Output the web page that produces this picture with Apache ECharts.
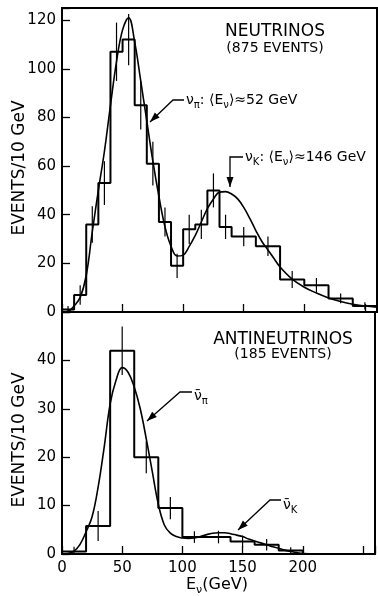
<!DOCTYPE html>
<html><head><meta charset="utf-8">
<script src="https://cdn.jsdelivr.net/npm/echarts@6/dist/echarts.min.js"></script>
<style>html,body{margin:0;padding:0;background:#fff}#c{width:378px;height:596px}</style>
</head><body><div id="c"></div>
<script>
// ---- Neutrinos (top panel) ----
const nuEdges  = [0,10,20,30,40,50,60,70,80,90,100,110,120,130,140,160,180,200,220,240,260];
const nuCounts = [1,7,36,53,107,112,85,61,37,19,34,36,50,35,31,27,13.4,11,5.6,2.5];
const nuErrors = [1.5,4,7.5,9,12,10.5,10,9,6,5,6,6,7,5,4,4,3.5,3,2,1.5];
const nuFitX = [0,5,10,15,20,25,30,35,40,45,50,55,60,65,70,75,80,85,90,95,100,105,110,115,120,125,130,135,140,145,150,155,160,165,170,175,180,190,200,210,220,230,240,250,260];
const nuFitY = [0,0.3,2.5,6,15,33,50,66,85,103,116,121,111,95,78.5,62,47.5,35,27,23,23.4,27,31.5,37,42.5,46.5,49.3,49.5,48.5,46.5,43,38.5,33.5,29,25.5,22,18.5,13.5,10.2,7.8,5.8,4.3,3.2,2.5,2];
// ---- Antineutrinos (bottom panel) ----
const abEdges  = [0,20,40,60,80,100,120,140,160,180,200,260];
const abCounts = [0.5,5.8,42,20,9.5,3.5,3.5,2.6,1.9,0.7,0];
const abErrors = [1,3.1,5,3.3,2.3,1.2,1.3,1.2,1.2,0.7,0];
const abFitX = [0,5,10,15,20,25,30,35,40,45,50,55,60,65,70,75,80,85,90,95,100,105,110,115,120,125,130,135,140,145,150,155,160,165,170,175,180,185,190,195,200,210,260];
const abFitY = [0,0.1,0.6,2,4.6,7.7,13.8,22,31,36,38.5,37.5,34.5,30,23.8,17,10.3,6,4.3,3.6,3.3,3.2,3.3,3.6,4,4.3,4.4,4.4,4.2,3.9,3.6,3.1,2.7,2.3,1.9,1.5,1.2,0.8,0.5,0.3,0.1,0,0];
// ---- ticks ----
const xTickStep = 50, xLabelMax = 200;
const yTopStep = 20, yTopLabelMax = 120;
const yBotStep = 10, yBotLabelMax = 40;

const FONT = 'DejaVu Sans';
function stepData(edges, counts){ const d = counts.map((c,i)=>[edges[i], c]); d.push([edges[edges.length-1], counts[counts.length-1]]); return d; }
function errData(edges, counts, errs){ return counts.map((c,i)=>[(edges[i]+edges[i+1])/2, Math.max(0,c-errs[i]), c+errs[i]]).filter(d=>d[2]>d[1]); }
function fitData(xs, ys){ return xs.map((x,i)=>[x, ys[i]]); }
const errRender = (params, api) => {
  const p1 = api.coord([api.value(0), api.value(1)]);
  const p2 = api.coord([api.value(0), api.value(2)]);
  return {type:'line', shape:{x1:p1[0],y1:p1[1],x2:p2[0],y2:p2[1]}, style:{stroke:'#000', lineWidth:1.2}};
};
function arrow(pts){
  const n = pts.length, t = pts[n-1], f = pts[n-2];
  const dx=t[0]-f[0], dy=t[1]-f[1], L=Math.hypot(dx,dy), ux=dx/L, uy=dy/L, len=10, w=3.5;
  const bx=t[0]-ux*len, by=t[1]-uy*len;
  return [
    {type:'polyline', shape:{points:pts}, style:{stroke:'#000', lineWidth:1.3, fill:null}},
    {type:'polygon', shape:{points:[t,[bx-uy*w,by+ux*w],[bx+uy*w,by-ux*w]]}, style:{fill:'#000'}}
  ];
}
const richSub = {
  a:{fontSize:14, lineHeight:20, fontFamily:FONT, color:'#000'},
  s:{fontSize:10, lineHeight:10, verticalAlign:'bottom', fontFamily:FONT, color:'#000'}
};
function txt(x,y,text,size,extra){ return Object.assign({type:'text', x:x, y:y, style:{text:text, font:size+'px "'+FONT+'"', fill:'#000', align:'center', verticalAlign:'middle'}}, extra||{}); }
function rtxt(x,y,text,rich){ return {type:'text', x:x, y:y, style:{text:text, rich:rich||richSub, fill:'#000', align:'left', verticalAlign:'middle', font:'14px "'+FONT+'"'}}; }

const axisCommon = {
  type:'value', min:0,
  axisLine:{show:true, lineStyle:{color:'#000', width:2}},
  axisTick:{show:true, inside:true, length:8, lineStyle:{color:'#000', width:1.3}},
  splitLine:{show:false}
};
const option = {
  backgroundColor:'#fff',
  animation:false,
  grid:[
    {left:62, top:8, width:315, height:304, show:true, borderColor:'#000', borderWidth:2},
    {left:62, top:312, width:315, height:242, show:true, borderColor:'#000', borderWidth:2}
  ],
  xAxis:[
    Object.assign({}, axisCommon, {gridIndex:0, max:260, interval:xTickStep, axisLabel:{show:false}}),
    Object.assign({}, axisCommon, {gridIndex:1, max:260, interval:xTickStep,
      axisLabel:{show:true, margin:7, fontSize:15, fontFamily:FONT, color:'#000',
        formatter:v => (v % xTickStep === 0 && v <= xLabelMax) ? String(v) : ''}})
  ],
  yAxis:[
    Object.assign({}, axisCommon, {gridIndex:0, max:125, interval:yTopStep,
      axisLabel:{show:true, margin:6, fontSize:15, fontFamily:FONT, color:'#000',
        formatter:v => (v % yTopStep === 0 && v <= yTopLabelMax) ? String(v) : ''}}),
    Object.assign({}, axisCommon, {gridIndex:1, max:50, interval:yBotStep,
      axisLabel:{show:true, margin:6, fontSize:15, fontFamily:FONT, color:'#000',
        formatter:v => (v % yBotStep === 0 && v <= yBotLabelMax) ? String(v) : ''}})
  ],
  series:[
    {type:'line', xAxisIndex:0, yAxisIndex:0, step:'end', data:stepData(nuEdges, nuCounts), symbol:'none', lineStyle:{color:'#000', width:2}},
    {type:'custom', xAxisIndex:0, yAxisIndex:0, data:errData(nuEdges, nuCounts, nuErrors), renderItem:errRender},
    {type:'line', xAxisIndex:0, yAxisIndex:0, smooth:0.4, data:fitData(nuFitX, nuFitY), symbol:'none', lineStyle:{color:'#000', width:1.6}},
    {type:'line', xAxisIndex:1, yAxisIndex:1, step:'end', data:stepData(abEdges, abCounts), symbol:'none', lineStyle:{color:'#000', width:2}},
    {type:'custom', xAxisIndex:1, yAxisIndex:1, data:errData(abEdges, abCounts, abErrors), renderItem:errRender},
    {type:'line', xAxisIndex:1, yAxisIndex:1, smooth:0.4, data:fitData(abFitX, abFitY), symbol:'none', lineStyle:{color:'#000', width:1.6}}
  ],
  graphic:[].concat(
    txt(275, 32, 'NEUTRINOS', 17),
    txt(275, 48, '(875 EVENTS)', 14),
    txt(283, 340, 'ANTINEUTRINOS', 17),
    txt(283, 354, '(185 EVENTS)', 14),
    txt(20, 168, 'EVENTS/10 GeV', 17, {rotation:Math.PI/2}),
    txt(20, 440, 'EVENTS/10 GeV', 17, {rotation:Math.PI/2}),
    rtxt(186, 100, '{a|ν}{s|π}{a|: ⟨E}{s|ν}{a|⟩≈52 GeV}'),
    rtxt(245, 157, '{a|ν}{s|K}{a|: ⟨E}{s|ν}{a|⟩≈146 GeV}'),
    rtxt(194, 396, '{a|ν\u0304}{s|π}'),
    rtxt(283, 505, '{a|ν\u0304}{s|K}'),
    rtxt(186, 585, '{a|E}{s|ν}{a|(GeV)}', {
      a:{fontSize:16, lineHeight:22, fontFamily:FONT, color:'#000'},
      s:{fontSize:11, lineHeight:11, verticalAlign:'bottom', fontFamily:FONT, color:'#000'}}),
    arrow([[184,100],[173,100],[150,122]]),
    arrow([[243,157],[230,157],[230,187]]),
    arrow([[192,392],[180,392],[147,421]]),
    arrow([[281,500],[270,500],[238,530]])
  )
};
const chart = echarts.init(document.getElementById('c'), null, {renderer:'canvas'});
chart.setOption(option);
</script>
</body></html>
